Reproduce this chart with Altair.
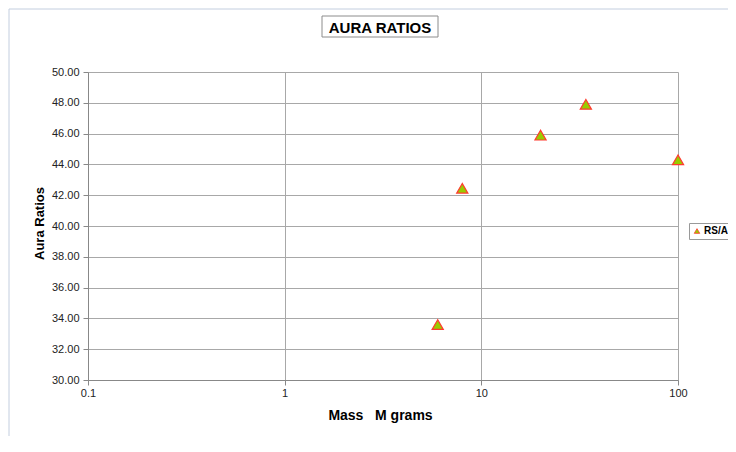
import altair as alt
import pandas as pd

# Data
mass = [6, 8, 20, 34, 100]
ratio = [33.6, 42.45, 45.9, 47.9, 44.3]
series = ["RS/A"] * len(mass)

x_ticks = [0.1, 1, 10, 100]
y_ticks = [30, 32, 34, 36, 38, 40, 42, 44, 46, 48, 50]

FONT = "Liberation Sans"

df = pd.DataFrame({"mass": mass, "ratio": ratio, "series": series})
one = pd.DataFrame({"a": [0]})

points = alt.Chart(df).mark_point(
    shape="triangle-up", filled=True, size=125, stroke="#FF3B2F", strokeWidth=1.2, opacity=1
).encode(
    x=alt.X(
        "mass:Q",
        scale=alt.Scale(type="log", domain=[0.1, 100], nice=False),
        axis=alt.Axis(
            values=x_ticks, format="~g", title="Mass\u00a0\u00a0\u00a0M grams",
            titleX=292, titleY=39, titleBaseline="alphabetic", titleAlign="center",
            titleFontSize=14, titleFontWeight="bold", titleFont=FONT, titleColor="#000000",
            labelFontSize=11, labelFont=FONT, labelColor="#222222", labelPadding=2,
            labelFlush=False,
            tickSize=5, tickColor="#888888", domainColor="#888888",
            grid=True, gridColor="#A8A8A8", gridWidth=1,
        ),
    ),
    y=alt.Y(
        "ratio:Q",
        scale=alt.Scale(domain=[30, 50], nice=False, zero=False),
        axis=alt.Axis(
            values=y_ticks, format=".2f", title="Aura Ratios",
            titleX=-45, titleY=151, titleBaseline="alphabetic", titleAlign="center", titleAngle=-90,
            titleFontSize=13, titleFontWeight="bold", titleFont=FONT, titleColor="#000000",
            labelFontSize=11, labelFont=FONT, labelColor="#222222", labelPadding=4,
            labelFlush=False,
            tickSize=5, tickColor="#888888", domainColor="#888888",
            grid=True, gridColor="#A8A8A8", gridWidth=1,
        ),
    ),
    color=alt.Color(
        "series:N",
        scale=alt.Scale(range=["#99CC00"]),
        legend=alt.Legend(
            title=None, orient="none", legendX=601, legendY=151,
            padding=3, strokeColor="#999999", fillColor="#FFFFFF", cornerRadius=0,
            symbolType="triangle-up", symbolSize=30, symbolStrokeColor="#FF3B2F",
            symbolStrokeWidth=0.8, labelFont=FONT, labelFontSize=10, labelFontWeight="bold",
            labelColor="#000000", labelOffset=2,
        ),
    ),
)

outer = alt.Chart(one).mark_rect(fill="transparent", stroke="#C3CEDF", strokeWidth=1).encode(
    x=alt.value(-79), x2=alt.value(720), y=alt.value(-63), y2=alt.value(420)
)

title_box = alt.Chart(one).mark_rect(fill="#FFFFFF", stroke="#8C8C8C", strokeWidth=1).encode(
    x=alt.value(234), x2=alt.value(350), y=alt.value(-56), y2=alt.value(-35)
)

title_text = alt.Chart(one).mark_text(
    text="AURA RATIOS", font=FONT, fontSize=15, fontWeight="bold", color="#000000",
    align="center", baseline="alphabetic",
).encode(x=alt.value(292), y=alt.value(-39))

chart = alt.layer(outer, title_box, title_text, points).properties(
    width=590, height=308,
    autosize=alt.AutoSizeParams(type="none"),
    padding={"left": 80, "top": 64, "right": 50, "bottom": 56},
    background="#FFFFFF",
).configure_view(stroke=None)

chart.save("out.html", embed_options={"renderer": "svg", "actions": False})
